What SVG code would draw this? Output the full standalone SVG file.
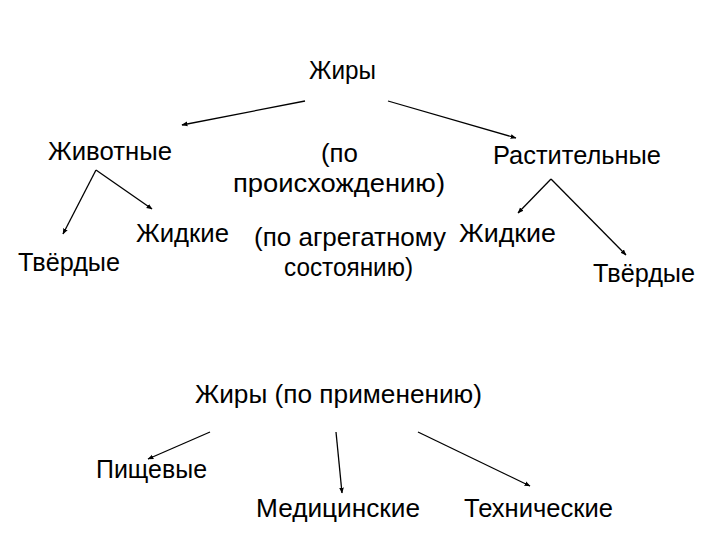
<svg xmlns="http://www.w3.org/2000/svg" width="720" height="540" viewBox="0 0 720 540">
<defs>
<marker id="ah" viewBox="0 0 10 10" refX="9" refY="5" markerWidth="6" markerHeight="6" orient="auto" markerUnits="userSpaceOnUse">
<path d="M0,1 L10,5 L0,9 z" fill="#000"/>
</marker>
<style>
text{font-family:"Liberation Sans","DejaVu Sans",sans-serif;font-size:25px;fill:#000}
.c line,.c path{stroke:#000;stroke-width:1.3;fill:none}
</style>
</defs>
<rect width="720" height="540" fill="#fff"/>
<g class="c" id="connectors">
<line x1="305" y1="101" x2="182" y2="125" marker-end="url(#ah)"/>
<line x1="388" y1="101" x2="516" y2="138" marker-end="url(#ah)"/>
<line x1="96" y1="170" x2="63" y2="234" marker-end="url(#ah)"/>
<line x1="96" y1="170" x2="152" y2="209" marker-end="url(#ah)"/>
<line x1="551" y1="179" x2="518" y2="213" marker-end="url(#ah)"/>
<line x1="551" y1="179" x2="626" y2="255" marker-end="url(#ah)"/>
<line x1="210" y1="432" x2="148" y2="459" marker-end="url(#ah)"/>
<line x1="336" y1="432" x2="342" y2="493" marker-end="url(#ah)"/>
<line x1="418" y1="432" x2="530" y2="486" marker-end="url(#ah)"/>
</g>
<g id="root"><text x="309" y="79" textLength="67" lengthAdjust="spacingAndGlyphs">Жиры</text></g>
<g id="animal"><text x="48" y="160" textLength="124" lengthAdjust="spacingAndGlyphs">Животные</text></g>
<g id="origin"><text x="321" y="162" textLength="37" lengthAdjust="spacingAndGlyphs">(по</text><text x="233" y="192" textLength="212" lengthAdjust="spacingAndGlyphs">происхождению)</text></g>
<g id="plant"><text x="493" y="164" textLength="168" lengthAdjust="spacingAndGlyphs">Растительные</text></g>
<g id="liquid1"><text x="136" y="242" textLength="93" lengthAdjust="spacingAndGlyphs">Жидкие</text></g>
<g id="state"><text x="254" y="246" textLength="192" lengthAdjust="spacingAndGlyphs">(по агрегатному</text><text x="284" y="276" textLength="129" lengthAdjust="spacingAndGlyphs">состоянию)</text></g>
<g id="liquid2"><text x="459" y="242" textLength="97" lengthAdjust="spacingAndGlyphs">Жидкие</text></g>
<g id="solid1"><text x="18" y="271" textLength="102" lengthAdjust="spacingAndGlyphs">Твёрдые</text></g>
<g id="solid2"><text x="593" y="282" textLength="102" lengthAdjust="spacingAndGlyphs">Твёрдые</text></g>
<g id="use"><text x="195" y="403" textLength="287" lengthAdjust="spacingAndGlyphs">Жиры (по применению)</text></g>
<g id="food"><text x="96" y="478" textLength="111" lengthAdjust="spacingAndGlyphs">Пищевые</text></g>
<g id="med"><text x="256" y="517" textLength="164" lengthAdjust="spacingAndGlyphs">Медицинские</text></g>
<g id="tech"><text x="464" y="517" textLength="149" lengthAdjust="spacingAndGlyphs">Технические</text></g>
</svg>
